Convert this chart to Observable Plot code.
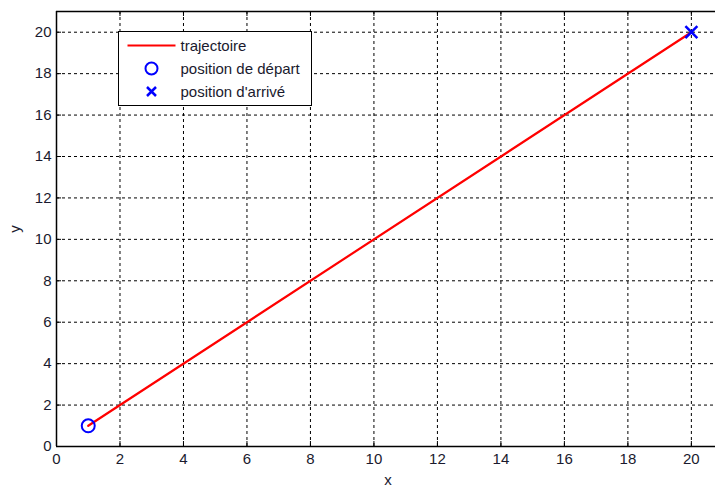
<!DOCTYPE html>
<html><head><meta charset="utf-8">
<script src="https://cdn.jsdelivr.net/npm/d3@7"></script>
<script src="https://cdn.jsdelivr.net/npm/@observablehq/plot@0.6"></script>
<style>
html,body{margin:0;padding:0;background:#fff;overflow:hidden;}
#chart{position:relative;width:715px;height:487px;}
</style></head>
<body><div id="chart"></div>
<script>
const trajX = [1, 20];
const trajY = [1, 20];
const startPt = [{x: 1, y: 1}];
const endPt = [{x: 20, y: 20}];
const xTicks = [0, 2, 4, 6, 8, 10, 12, 14, 16, 18, 20];
const yTicks = [0, 2, 4, 6, 8, 10, 12, 14, 16, 18, 20];
const legendLabels = ["trajectoire", "position de départ", "position d'arrivé"];

const traj = trajX.map((x, i) => ({x, y: trajY[i]}));
const W = 715, H = 487, mL = 56, mT = 11, mB = 41, mR = 0;
const plotH = H - mT - mB, plotW = W - mL - mR;

const plot = Plot.plot({
  width: W, height: H,
  marginLeft: mL, marginTop: mT, marginBottom: mB, marginRight: mR,
  style: {fontFamily: "'Liberation Sans', Arial, sans-serif", fontSize: "15px", color: "#1a1a2e", background: "#fff"},
  x: {domain: [0, 20.76], ticks: xTicks, label: null},
  y: {domain: [0, 21], ticks: yTicks, label: null},
  marks: [
    Plot.gridX(xTicks, {stroke: "#000", strokeOpacity: 1, strokeDasharray: "3,3", strokeWidth: 1}),
    Plot.gridY(yTicks, {stroke: "#000", strokeOpacity: 1, strokeDasharray: "3,3", strokeWidth: 1}),
    Plot.tickX(xTicks, {x: d => d, insetTop: plotH - 5, stroke: "#000"}),
    Plot.tickX(xTicks, {x: d => d, insetBottom: plotH - 5, stroke: "#000"}),
    Plot.tickY(yTicks, {y: d => d, insetRight: plotW - 5, stroke: "#000"}),
    Plot.axisX({ticks: xTicks, tickSize: 0, tickPadding: 7, fontSize: 15}),
    Plot.axisY({ticks: yTicks, tickSize: 0, tickPadding: 5, fontSize: 15}),
    Plot.ruleY([0], {stroke: "#000", strokeWidth: 1.5}),
    Plot.ruleX([0], {stroke: "#000", strokeWidth: 1.5}),
    Plot.ruleY([21], {stroke: "#000", strokeWidth: 1.5}),
    Plot.line(traj, {x: "x", y: "y", stroke: "#ff0000", strokeWidth: 2.2}),
    Plot.dot(startPt, {x: "x", y: "y", r: 6.5, stroke: "#0000ff", strokeWidth: 2, fill: "none"}),
    Plot.dot(endPt, {x: "x", y: "y", r: 5.5, symbol: "times", stroke: "#0000ff", strokeWidth: 2.5})
  ]
});
document.getElementById("chart").appendChild(plot);

const svg = d3.select(plot);
svg.append("text").attr("x", 388).attr("y", 485).attr("text-anchor", "middle")
  .attr("font-size", 15).attr("fill", "#1a1a2e").text("x");
svg.append("text").attr("transform", "translate(20,229) rotate(-90)").attr("text-anchor", "middle")
  .attr("font-size", 15).attr("fill", "#1a1a2e").text("y");

// legend
const lg = svg.append("g").attr("transform", "translate(118.5,31.5)");
lg.append("rect").attr("width", 193).attr("height", 74).attr("fill", "#fff").attr("stroke", "#000").attr("stroke-width", 1);
lg.append("line").attr("x1", 9).attr("x2", 57).attr("y1", 14).attr("y2", 14).attr("stroke", "#ff0000").attr("stroke-width", 2);
lg.append("circle").attr("cx", 33).attr("cy", 37).attr("r", 6).attr("fill", "none").attr("stroke", "#0000ff").attr("stroke-width", 2);
lg.append("path").attr("d", "M28.5,55.5L37.5,64.5M37.5,55.5L28.5,64.5").attr("stroke", "#0000ff").attr("stroke-width", 2.5);
legendLabels.forEach((t, i) => {
  lg.append("text").attr("x", 62).attr("y", 14 + i * 23).attr("dy", "0.35em")
    .attr("text-anchor", "start").attr("font-size", 15).attr("fill", "#1a1a2e").text(t);
});
</script>
</body></html>
